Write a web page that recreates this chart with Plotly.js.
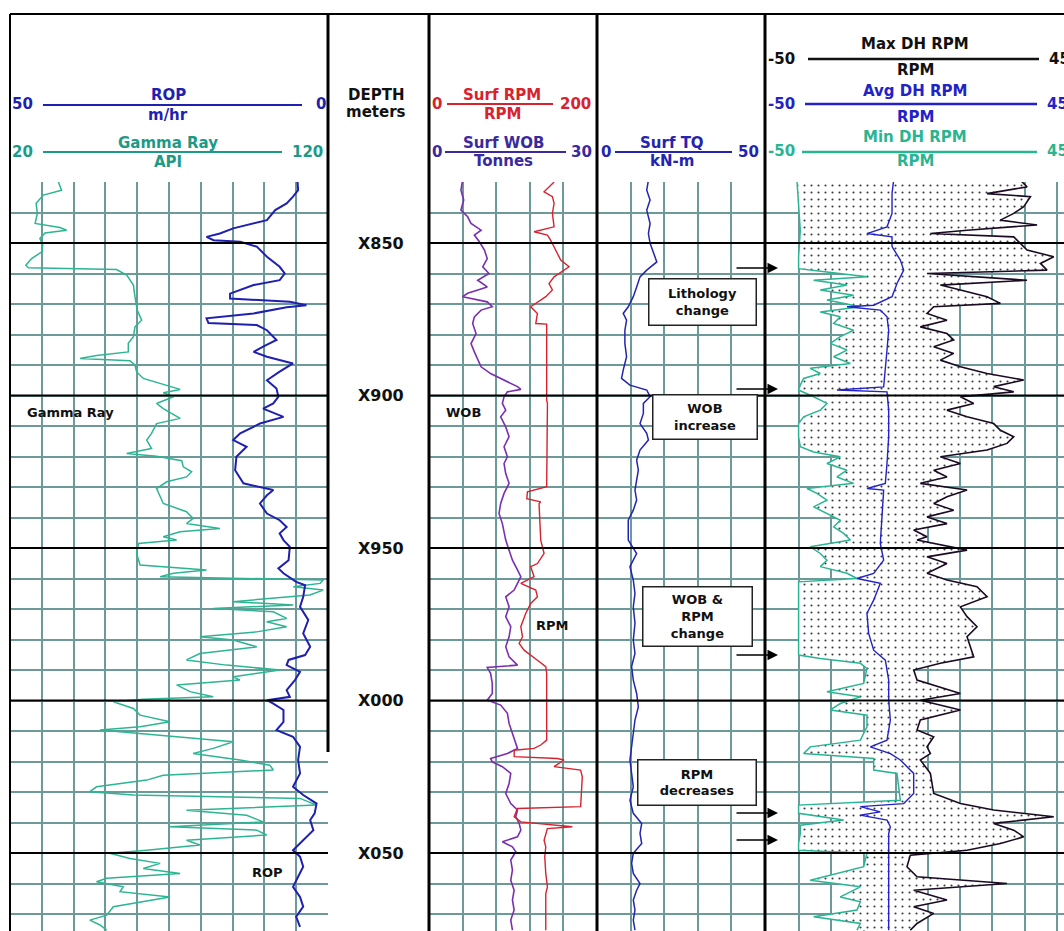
<!DOCTYPE html>
<html><head><meta charset="utf-8">
<script src="https://cdn.plot.ly/plotly-3.0.1.min.js"></script>
<style>html,body{margin:0;padding:0;background:#fff;} #chart{width:1064px;height:931px;}</style>
</head><body><div id="chart"></div>
<script>
// ---------------- DATA ----------------
const depthTicks  = [850, 900, 950, 1000, 1050];
const depthLabels = ['X850', 'X900', 'X950', 'X000', 'X050'];

const grDepth = [829.9,832.7,834.3,837.0,840.3,843.6,844.9,845.8,846.7,848.5,
 850.7,852.9,855.1,857.3,858.1,858.7,860.5,863.8,867.6,872.0,
 875.3,877.5,880.7,882.9,885.7,886.9,887.9,888.6,890.0,892.2,
 894.4,896.6,898.0,899.1,900.4,902.6,904.3,907.5,909.2,912.4,
 914.6,917.4,919.0,919.9,921.4,923.4,925.0,926.7,928.3,930.5,
 933.2,935.4,938.1,940.3,942.0,943.6,944.7,946.3,947.4,948.5,
 951.8,955.6,957.2,958.3,959.4,960.5,961.6,962.7,963.8,965.4,
 967.6,968.7,969.8,970.9,973.1,974.2,975.8,977.5,979.1,980.2,
 982.4,984.6,986.7,988.4,990.0,992.2,993.3,994.9,997.1,998.8,
 999.6,1000.4,1002.6,1004.8,1007.0,1008.6,1009.7,1011.9,1013.5,1015.7,
 1017.4,1019.5,1021.2,1022.8,1024.5,1026.1,1028.3,1029.9,1031.0,1032.1,
 1034.3,1036.0,1037.6,1039.8,1041.4,1042.5,1044.1,1045.8,1047.4,1049.1,
 1050.1,1051.8,1053.4,1055.1,1056.7,1058.3,1059.4,1061.1,1062.7,1064.4,
 1066.0,1067.6,1070.4,1072.0,1073.6,1075.3];
const grValue = [35.2,36.2,30.5,28.2,28.6,27.9,35.7,37.8,31.0,29.4,
 30.3,30.0,26.8,25.0,25.8,53.5,56.7,58.8,59.3,60.0,
 61.4,59.3,58.8,57.2,57.2,47.2,42.0,57.7,59.3,59.8,
 61.9,69.3,73.5,68.2,71.4,66.1,68.2,73.5,66.1,64.5,
 63.0,64.5,56.7,66.1,74.0,74.5,77.1,75.5,69.3,66.1,
 67.2,68.2,75.5,77.6,75.5,86.0,73.5,68.2,72.4,60.4,
 59.8,60.9,81.8,71.4,67.2,118.5,117.5,109.1,118.5,114.3,
 90.2,109.1,83.9,102.8,107.0,100.7,107.0,97.6,79.7,90.2,
 97.6,79.7,75.5,88.1,104.9,90.2,92.3,72.4,76.6,83.9,
 61.9,52.5,58.8,60.9,70.3,60.9,48.3,73.5,90.2,83.9,
 77.6,92.3,101.7,102.8,68.2,63.0,47.2,45.1,58.8,111.2,
 116.4,75.5,94.4,99.6,70.3,97.6,100.7,75.5,79.7,63.0,
 51.4,57.7,67.2,61.9,73.5,50.4,47.2,55.6,54.6,70.3,
 61.9,52.5,50.4,45.1,48.3,50.4];

const ropDepth = [829.4,832.7,834.8,837.0,839.2,842.5,845.2,846.9,848.0,849.1,
 849.6,851.2,854.5,857.8,860.0,862.2,863.8,866.6,868.2,869.3,
 870.4,871.1,873.1,874.7,876.2,876.9,878.6,881.8,884.0,885.7,
 887.3,889.5,892.2,895.0,897.7,900.4,902.6,904.3,907.0,909.2,
 912.4,914.6,916.8,920.1,924.5,928.8,931.0,932.7,935.4,938.7,
 940.9,943.1,945.2,947.4,949.6,954.0,956.7,958.3,961.1,962.2,
 966.0,969.3,973.6,978.0,982.4,985.1,986.7,988.4,990.6,993.3,
 996.6,998.8,999.9,1001.0,1003.1,1007.0,1009.7,1011.9,1015.2,1019.5,
 1023.9,1028.3,1031.0,1033.8,1037.0,1039.2,1042.5,1045.8,1049.1,1051.2,
 1054.5,1057.8,1061.1,1064.4,1067.6,1070.9,1074.2];
const ropValue = [4.8,4.7,5.5,6.5,8.3,9.6,14.9,17.0,19.1,18.0,
 13.8,11.2,9.6,7.6,6.8,7.6,11.7,15.4,15.4,6.0,
 3.4,6.5,11.7,19.1,18.8,11.2,9.6,8.1,10.2,11.7,
 9.6,5.5,7.6,9.6,8.1,7.8,8.6,10.2,7.0,10.7,
 13.8,14.9,12.8,14.4,14.6,13.3,8.6,9.6,10.7,9.6,
 7.6,6.5,7.6,7.0,6.0,6.2,7.8,7.0,5.0,3.6,
 3.9,4.4,3.1,3.9,2.8,3.6,6.2,6.5,4.4,5.2,
 6.5,6.0,9.6,8.6,7.0,7.0,8.1,5.5,4.4,4.7,
 4.4,5.5,3.9,1.8,2.1,2.8,2.3,3.9,5.5,4.4,
 3.9,4.7,5.5,4.4,3.9,5.0,4.4];

const wobDepth = [829.4,832.7,835.9,839.2,841.4,843.6,845.8,847.4,849.6,852.3,
 855.1,857.8,860.0,862.2,864.4,866.5,867.6,869.3,870.9,872.0,
 874.2,876.4,879.7,883.0,885.7,888.4,890.6,892.8,894.4,896.1,
 897.1,898.0,898.8,900.4,902.6,904.8,907.0,910.3,913.5,916.8,
 920.1,922.3,925.6,928.8,932.1,935.4,938.7,942.0,945.2,947.4,
 950.7,954.0,957.2,959.4,961.6,963.8,966.0,969.3,972.5,975.8,
 979.1,982.4,985.7,988.4,989.2,991.1,994.4,997.7,999.9,1001.5,
 1004.2,1007.5,1010.8,1014.1,1015.7,1017.4,1019.0,1020.1,1021.7,1023.9,
 1027.2,1030.5,1033.8,1035.9,1038.1,1040.3,1042.5,1044.7,1046.3,1048.0,
 1049.6,1052.3,1055.6,1058.9,1062.2,1065.4,1068.7,1072.0,1075.3];
const wobValue = [6.0,5.7,6.2,5.7,6.9,7.5,9.3,8.1,9.0,9.9,
 10.4,9.6,10.7,8.7,10.4,6.9,6.0,10.4,11.3,9.3,
 8.1,7.8,8.4,7.5,8.1,8.7,9.3,11.0,12.8,14.6,
 15.8,16.4,14.0,13.4,13.1,13.7,12.8,13.7,14.3,13.4,
 14.0,13.4,13.7,14.3,13.4,12.8,12.5,13.1,13.4,13.7,
 14.3,14.9,15.8,16.4,15.8,15.2,13.7,14.3,13.7,14.6,
 14.3,13.7,14.3,15.8,10.4,11.0,11.3,11.3,10.4,12.8,
 14.0,14.3,14.9,15.5,15.8,14.0,11.0,11.3,13.1,14.6,
 14.3,13.7,14.6,15.8,15.5,16.1,16.4,15.8,13.1,14.9,
 15.5,14.6,14.9,14.6,15.2,14.9,15.2,14.6,14.9];

const rpmDepth = [830.0,833.2,834.8,837.0,840.3,844.7,846.3,847.4,849.1,852.3,
 855.6,857.8,859.4,861.1,863.3,865.4,867.6,869.8,870.9,873.1,
 876.4,876.6,901.5,902.6,929.9,931.6,933.8,934.9,935.4,947.4,
 951.8,955.1,956.1,959.4,961.6,963.8,966.0,968.2,971.4,975.8,
 979.1,981.3,983.5,986.8,988.9,991.1,1013.0,1014.6,1015.7,1016.3,
 1018.4,1019.0,1019.5,1021.7,1022.8,1025.0,1034.8,1035.4,1038.1,1039.8,
 1041.4,1042.0,1043.6,1045.8,1048.0,1051.2,1056.7,1061.1,1063.3,1075.3];
const rpmValue = [148.9,137.0,146.9,148.9,146.9,148.9,125.1,141.0,144.9,150.8,
 156.8,166.7,158.8,148.9,142.9,146.9,139.0,127.1,121.1,129.1,
 127.1,140.1,140.1,141.0,140.1,117.2,116.4,133.0,131.0,133.0,
 137.0,129.1,121.1,125.1,109.3,127.1,129.1,121.1,115.2,109.3,
 111.3,107.3,113.2,129.1,139.0,140.1,140.1,133.0,125.1,101.4,
 101.4,152.8,160.7,148.9,180.5,182.5,180.5,105.3,101.4,109.3,
 170.6,140.9,139.0,137.0,139.0,137.8,139.0,141.0,139.0,139.0];

const tqDepth = [829.4,832.7,835.9,839.2,843.6,846.9,850.1,853.4,856.2,858.9,
 861.1,864.4,867.6,870.9,873.1,875.3,878.6,883.0,887.3,891.7,
 894.4,896.6,898.2,900.4,902.6,905.9,909.2,912.4,914.6,917.9,
 921.2,924.5,927.7,931.0,934.3,937.6,940.9,944.1,947.4,951.8,
 956.1,960.5,964.9,969.3,974.7,980.2,984.6,988.9,993.3,997.7,
 1002.1,1006.4,1010.8,1015.2,1019.5,1023.9,1028.3,1032.7,1037.0,1040.3,
 1043.6,1046.9,1050.1,1053.4,1056.7,1060.0,1062.2,1065.4,1068.7,1072.0,
 1075.3];
const tqValue = [15.3,14.8,15.8,14.8,15.8,15.3,15.8,16.8,17.8,14.8,
 12.8,11.8,10.8,9.3,7.8,8.8,8.3,8.3,8.8,7.8,
 7.3,9.8,14.8,15.8,13.8,13.8,12.8,14.8,15.3,12.8,
 11.8,12.3,11.8,11.3,11.8,10.8,9.3,9.3,9.3,11.8,
 9.8,10.8,11.3,10.8,11.3,10.8,11.3,10.3,10.8,11.8,
 12.3,11.3,10.8,10.3,9.8,10.3,10.8,9.8,10.8,13.3,
 12.8,13.3,10.8,10.3,10.8,12.8,11.8,10.8,11.3,10.8,
 11.3];

const minDepth = [829.4,837.0,845.8,854.5,858.4,859.5,861.1,862.2,863.8,865.4,
 867.1,868.7,870.9,872.6,874.2,876.4,878.6,880.7,882.9,885.1,
 887.3,889.5,891.1,892.8,894.4,896.6,898.2,900.4,902.6,904.8,
 907.0,909.2,913.5,916.8,918.5,920.1,922.3,924.5,926.7,928.8,
 930.5,932.1,934.3,936.5,938.7,940.9,943.1,945.2,947.4,949.6,
 951.8,954.0,956.1,958.3,960.0,961.1,969.3,978.0,985.1,986.2,
 987.8,989.5,994.4,997.1,998.8,1001.0,1003.1,1004.8,1008.6,1013.0,
 1015.2,1017.4,1019.0,1022.8,1023.9,1032.7,1034.3,1037.0,1039.2,1040.9,
 1043.6,1046.9,1049.1,1050.1,1054.5,1058.9,1061.1,1064.4,1066.0,1068.7,
 1070.9,1073.1,1075.3];
const minValue = [-3.5,-0.9,1.7,-0.9,-0.9,43.1,105.2,22.4,74.2,32.8,
 84.5,43.1,94.9,32.8,63.8,53.5,84.5,63.8,48.3,74.2,
 53.5,79.4,17.2,32.8,6.9,1.7,-0.9,22.4,43.1,32.8,
 6.9,-0.9,-0.9,1.7,22.4,63.8,43.1,74.2,58.7,84.5,
 12.1,27.6,43.1,22.4,43.1,63.8,53.5,69.0,79.4,17.2,
 32.8,43.1,32.8,74.2,89.7,-0.9,-0.9,-0.9,-0.9,32.8,
 94.9,105.2,100.1,43.1,94.9,63.8,48.3,105.2,105.2,94.9,
 17.2,6.9,115.6,115.6,151.8,157.0,-0.9,-0.9,69.0,1.7,
 1.7,-0.9,-0.9,105.2,100.1,17.2,94.9,63.8,94.9,89.7,
 22.4,94.9,89.7];

const avgDepth = [829.4,833.8,840.3,844.7,846.9,848.0,851.2,855.6,858.9,863.3,
 867.6,870.4,870.9,872.0,874.2,878.6,885.1,891.7,897.2,898.2,
 898.8,904.8,913.5,922.3,928.8,930.5,931.0,939.8,948.5,954.0,
 958.3,960.0,961.6,967.1,971.4,978.0,983.5,986.8,993.3,999.9,
 1006.4,1013.0,1015.2,1017.4,1019.5,1021.7,1023.9,1030.5,1033.8,1034.8,
 1036.5,1037.6,1039.2,1041.4,1043.6,1050.1,1056.7,1063.3,1075.3];
const avgValue = [146.6,144.1,144.1,136.3,105.2,144.1,144.1,157.0,162.2,151.8,
 144.1,115.6,74.2,125.9,136.3,138.9,136.3,133.7,131.1,58.6,
 136.3,138.9,138.9,136.3,133.7,105.2,131.1,128.5,125.9,131.1,
 115.6,89.7,125.9,115.6,105.2,107.8,115.6,133.7,138.9,138.9,
 141.5,136.3,110.4,141.5,157.0,167.3,177.7,177.7,162.2,94.9,
 125.9,94.9,136.3,141.5,138.9,138.9,138.9,138.9,138.9];

const maxDepth = [829.4,831.6,833.8,834.8,838.1,840.3,842.5,844.1,845.8,846.9,
 848.0,850.1,852.3,854.5,856.7,858.9,860.0,862.2,863.8,865.4,
 867.6,869.8,870.9,873.1,875.3,877.5,879.7,881.8,884.0,886.2,
 888.4,890.6,892.8,894.9,897.1,898.8,900.4,902.6,904.8,907.0,
 909.2,911.4,913.5,915.7,917.9,920.1,922.3,924.5,926.7,928.8,
 931.0,933.2,935.4,937.6,939.8,942.0,944.1,946.3,947.4,950.7,
 952.9,955.1,958.3,960.5,962.7,966.0,969.3,972.5,975.8,979.1,
 982.4,985.7,987.8,990.0,993.3,997.7,999.9,1003.1,1006.4,1009.7,
 1011.9,1015.2,1017.4,1019.5,1023.9,1030.5,1033.8,1035.9,1038.1,1040.3,
 1042.5,1044.7,1046.9,1049.1,1050.7,1054.5,1057.8,1060.0,1062.2,1065.4,
 1067.6,1069.8,1073.1,1075.3];
const maxValue = [343.3,353.7,291.6,358.9,348.5,333.0,312.3,369.2,260.5,203.6,
 333.0,343.3,353.7,395.1,374.4,384.7,198.4,353.7,219.1,250.2,
 291.6,312.3,208.8,198.4,229.4,188.0,229.4,239.8,208.8,239.8,
 219.1,250.2,291.6,348.5,301.9,333.0,250.2,270.9,229.4,260.5,
 301.9,312.3,333.0,322.6,291.6,219.1,250.2,208.8,229.4,188.0,
 260.5,229.4,208.8,239.8,198.4,229.4,177.7,198.4,182.9,260.5,
 198.4,229.4,198.4,229.4,276.0,291.6,250.2,260.5,276.0,260.5,
 265.7,270.9,219.1,177.7,182.9,250.2,188.0,250.2,188.0,182.9,
 208.8,198.4,203.6,188.0,203.6,208.8,250.2,301.9,395.1,301.9,
 333.0,348.5,312.3,260.5,172.5,167.3,182.9,322.6,177.7,229.4,
 177.7,208.8,182.9,172.5];

// events marked by arrows (depths)
const arrowDepths = [858.2, 897.9, 985.1, 1036.9, 1045.7];

// ---------------- CHECK ----------------
[[grDepth,grValue,'gr'],[ropDepth,ropValue,'rop'],[wobDepth,wobValue,'wob'],[rpmDepth,rpmValue,'rpm'],
 [tqDepth,tqValue,'tq'],[minDepth,minValue,'min'],[avgDepth,avgValue,'avg'],[maxDepth,maxValue,'max']]
 .forEach(([a,b,n]) => { if (a.length !== b.length) throw new Error(n+' length mismatch '+a.length+' vs '+b.length); });

// ---------------- LAYOUT HELPERS ----------------
const W = 1064, H = 931;
const px = x => x / W, py = y => 1 - y / H;
const FONT = 'DejaVu Sans, Verdana, sans-serif';
const C = {
  rop: '#1f1fb0', grText: '#1d9a86', gr: '#2db592', rpm: '#d8222e', wobText: '#3a2a9e',
  wob: '#7a2fb0', tq: '#2424b0', maxc: '#1a0a22', avg: '#2222c8', minc: '#2ab592',
  grid: '#6c9a98'
};

const gridAxis = (dom, range, dtick, tick0) => ({
  domain: dom, range: range, dtick: dtick, tick0: tick0, showgrid: true, gridcolor: C.grid,
  gridwidth: 2, zeroline: false, showline: false, showticklabels: false, ticks: '', fixedrange: true
});
const overlayAxis = (over, range) => ({
  overlaying: over, range: range, visible: false, showgrid: false, zeroline: false, fixedrange: true
});

const T1 = [10, 328], T2 = [429, 597], T3 = [597, 765], T4 = [766, 1064];

const traces = [
  { x: grValue, y: grDepth, xaxis: 'x', yaxis: 'y', mode: 'lines', line: { color: C.gr, width: 1.5 } },
  { x: ropValue, y: ropDepth, xaxis: 'x2', yaxis: 'y', mode: 'lines', line: { color: C.rop, width: 2 } },
  { x: wobValue, y: wobDepth, xaxis: 'x3', yaxis: 'y', mode: 'lines', line: { color: C.wob, width: 1.6 } },
  { x: rpmValue, y: rpmDepth, xaxis: 'x4', yaxis: 'y', mode: 'lines', line: { color: C.rpm, width: 1.4 } },
  { x: tqValue, y: tqDepth, xaxis: 'x5', yaxis: 'y', mode: 'lines', line: { color: C.tq, width: 1.5 } },
  { x: minValue, y: minDepth, xaxis: 'x6', yaxis: 'y', mode: 'lines', line: { color: C.minc, width: 1.5 } },
  { x: maxValue, y: maxDepth, xaxis: 'x6', yaxis: 'y', mode: 'lines', line: { color: C.maxc, width: 1.6 },
    fill: 'tonextx', fillcolor: 'white',
    fillpattern: { shape: '.', fgcolor: '#3a3a3a', bgcolor: 'white', size: 7, solidity: 0.07, fillmode: 'replace' } },
  { x: avgValue, y: avgDepth, xaxis: 'x6', yaxis: 'y', mode: 'lines', line: { color: C.avg, width: 1.4 } }
];

const shapes = [];
const line = (x0, y0, x1, y1, color, width) =>
  shapes.push({ type: 'line', xref: 'paper', yref: 'paper', x0: px(x0), y0: py(y0), x1: px(x1), y1: py(y1),
    line: { color: color, width: width }, layer: 'above' });

// frame / track borders
line(10, 14, 1064, 14, '#000', 2);
line(10, 14, 10, 931, '#000', 2);
line(328, 14, 328, 752, '#000', 3);
line(429, 14, 429, 931, '#000', 3);
line(597, 14, 597, 931, '#000', 3);
line(765, 14, 765, 931, '#000', 3);
// 50 m black lines
[T1, T2, T3, T4].forEach(t => depthTicks.forEach(d => shapes.push({
  type: 'line', xref: 'paper', yref: 'y', x0: px(t[0]), x1: px(t[1]), y0: d, y1: d,
  line: { color: '#000', width: 2 }, layer: 'above' })));
// header scale lines
line(43, 105, 302, 105, C.rop, 2);
line(43, 152, 282, 152, C.grText, 2);
line(447, 104, 553, 104, C.rpm, 2);
line(445, 152, 566, 152, C.wobText, 2);
line(615, 152, 732, 152, C.tq, 2);
line(808, 59, 1039, 59, '#111', 2.5);
line(805, 104, 1037, 104, C.avg, 2.5);
line(802, 152, 1037, 152, C.minc, 2.5);

const annotations = [];
const txt = (x, y, text, color, size, xanchor) => annotations.push({
  xref: 'paper', yref: 'paper', x: px(x), y: py(y), text: '<b>' + text + '</b>', showarrow: false,
  xanchor: xanchor || 'center', yanchor: 'middle', font: { family: FONT, size: size || 15, color: color } });

// header texts
txt(22, 104, '50', C.rop, 15); txt(321, 104, '0', C.rop, 15);
txt(168, 95, 'ROP', C.rop); txt(168, 115, 'm/hr', C.rop);
txt(22, 152, '20', C.grText, 15); txt(307, 152, '120', C.grText, 15);
txt(168, 143, 'Gamma Ray', C.grText); txt(168, 162, 'API', C.grText);
txt(376, 95, 'DEPTH', '#111'); txt(376, 112, 'meters', '#111');
txt(437, 104, '0', C.rpm, 15); txt(575, 104, '200', C.rpm, 15);
txt(502, 95, 'Surf RPM', C.rpm); txt(502, 114, 'RPM', C.rpm);
txt(437, 152, '0', C.wobText, 15); txt(581, 152, '30', C.wobText, 15);
txt(503, 143, 'Surf WOB', C.wobText); txt(503, 161, 'Tonnes', C.wobText);
txt(606, 152, '0', C.tq, 15); txt(748, 152, '50', C.tq, 15);
txt(672, 143, 'Surf TQ', C.tq); txt(672, 161, 'kN-m', C.tq);
txt(781, 59, '-50', '#111', 15); txt(1047, 59, '450', '#111', 15, 'left');
txt(915, 44, 'Max DH RPM', '#111'); txt(915, 70, 'RPM', '#111');
txt(781, 104, '-50', C.avg, 15); txt(1045, 104, '450', C.avg, 15, 'left');
txt(915, 91, 'Avg DH RPM', C.avg); txt(915, 117, 'RPM', C.avg);
txt(781, 151, '-50', C.minc, 15); txt(1045, 151, '450', C.minc, 15, 'left');
txt(915, 137, 'Min DH RPM', C.minc); txt(915, 161, 'RPM', C.minc);

// curve labels
txt(70, 412, 'Gamma Ray', '#111', 13);
txt(267, 872, 'ROP', '#111', 13);
txt(463, 412, 'WOB', '#111', 13);
txt(552, 625, 'RPM', '#111', 13);

// depth labels
depthTicks.forEach((d, i) => annotations.push({
  xref: 'paper', yref: 'y', x: px(381), y: d, text: '<b>' + depthLabels[i] + '</b>', showarrow: false,
  xanchor: 'center', yanchor: 'middle', font: { family: FONT, size: 16, color: '#111' } }));

// boxes
const box = (cx, cy, w, h, text) => annotations.push({
  xref: 'paper', yref: 'paper', x: px(cx), y: py(cy), text: '<b>' + text + '</b>', showarrow: false,
  xanchor: 'center', yanchor: 'middle', width: w, height: h, bgcolor: 'white', bordercolor: '#222',
  borderwidth: 1.5, borderpad: 0, align: 'center', valign: 'middle',
  font: { family: FONT, size: 13, color: '#111' } });
box(702, 302, 106, 45, 'Lithology<br>change');
box(705, 417, 103, 43, 'WOB<br>increase');
box(697, 616, 108, 58, 'WOB &amp;<br>RPM<br>change');
box(697, 782, 117, 44, 'RPM<br>decreases');

// arrows
arrowDepths.forEach(d => annotations.push({
  xref: 'paper', yref: 'y', x: px(778), y: d, ax: -43, ay: 0, text: '', showarrow: true,
  arrowhead: 2, arrowsize: 1.4, arrowwidth: 1.5, arrowcolor: '#000' }));

const layout = {
  width: W, height: H, margin: { l: 0, r: 0, t: 0, b: 0 }, showlegend: false,
  paper_bgcolor: 'white', plot_bgcolor: 'white',
  yaxis: { domain: [0, py(182)], range: [850 + (931 - 243) / 3.05, 830], tick0: 830, dtick: 10,
    showgrid: true, gridcolor: C.grid, gridwidth: 2, zeroline: false, showline: false,
    showticklabels: false, ticks: '', fixedrange: true },
  xaxis: gridAxis([px(T1[0]), px(T1[1])], [20, 120], 10, 20),
  xaxis2: overlayAxis('x', [50, 0]),
  xaxis3: gridAxis([px(T2[0]), px(T2[1])], [0, 30], 6, 0),
  xaxis4: overlayAxis('x3', [0, 200]),
  xaxis5: gridAxis([px(T3[0]), px(T3[1])], [0, 50], 10, 0),
  xaxis6: gridAxis([px(T4[0]), 1], [-51.5, 411], 50, -50),
  shapes: shapes, annotations: annotations
};

Plotly.newPlot('chart', traces, layout, { staticPlot: true, displayModeBar: false });
</script>
</body></html>
